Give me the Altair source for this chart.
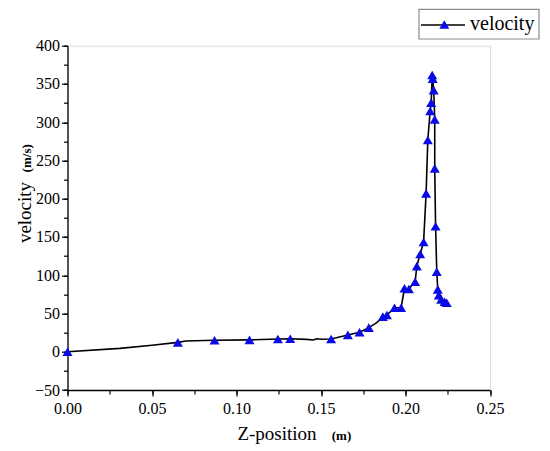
import altair as alt
import pandas as pd

# ---- data ----
# dense path of the black line
line_z = [0.0, 0.031, 0.050, 0.0653, 0.070, 0.087, 0.1077, 0.1245, 0.1318, 0.1415, 0.1455,
          0.1475, 0.1504, 0.156, 0.1659, 0.1728, 0.1783, 0.183, 0.1866, 0.1890, 0.1935, 0.1974,
          0.1994, 0.2020, 0.2057, 0.2067, 0.2087, 0.2107, 0.2122, 0.2132, 0.2146, 0.2152, 0.2158,
          0.2161, 0.2167, 0.2173, 0.2173, 0.2178, 0.2185, 0.2191, 0.2197, 0.2211, 0.2231, 0.2244]
line_v = [0.0, 4.4, 8.5, 12.3, 14.0, 15.0, 15.5, 16.6, 17.0, 16.2, 15.3,
          17.0, 16.3, 16.6, 22.0, 25.5, 31.5, 38.0, 45.8, 48.0, 57.5, 57.5,
          83.0, 82.0, 91.5, 112.0, 127.7, 143.4, 207.0, 276.7, 314.6, 325.5, 361.7,
          357.0, 342.0, 303.8, 239.7, 164.0, 104.6, 81.5, 74.0, 68.5, 65.4, 64.0]

# blue triangle markers
mark_z = [0.0, 0.0653, 0.087, 0.1077, 0.1245, 0.1318, 0.156, 0.1659, 0.1728, 0.1783, 0.1866,
          0.1890, 0.1935, 0.1974, 0.1994, 0.2020, 0.2057, 0.2067, 0.2087, 0.2107, 0.2122, 0.2132,
          0.2146, 0.2152, 0.2158, 0.2161, 0.2167, 0.2173, 0.2173, 0.2178, 0.2185, 0.2191, 0.2197,
          0.2211, 0.2231, 0.2244]
mark_v = [0.0, 12.3, 15.0, 15.5, 16.6, 17.0, 16.6, 22.0, 25.5, 31.5, 45.8,
          48.0, 57.5, 57.5, 83.0, 82.0, 91.5, 112.0, 127.7, 143.4, 207.0, 276.7,
          314.6, 325.5, 361.7, 357.0, 342.0, 303.8, 239.7, 164.0, 104.6, 81.5, 74.0,
          68.5, 65.4, 64.0]

x_major = [0.0, 0.05, 0.10, 0.15, 0.20, 0.25]
x_minor = [0.0, 0.025, 0.05, 0.075, 0.10, 0.125, 0.15, 0.175, 0.20, 0.225, 0.25]
y_major = [-50, 0, 50, 100, 150, 200, 250, 300, 350, 400]
y_minor = [-50, -25, 0, 25, 50, 75, 100, 125, 150, 175, 200, 225, 250, 275, 300, 325, 350, 375, 400]

x_title, x_unit = "Z-position", "(m)"
y_title, y_unit = "velocity", "(m/s)"
legend_label = "velocity"

# ---- styling ----
W, H = 422.5, 344.3
FONT = "'Liberation Serif', 'DejaVu Serif', serif"
BLUE = "#0a0ae6"

line_df = pd.DataFrame({"z": line_z, "v": line_v, "i": list(range(len(line_z)))})
mark_df = pd.DataFrame({"z": mark_z, "v": mark_v})
one = pd.DataFrame({"a": [0]})

xs = alt.Scale(domain=[0, 0.25], nice=False, zero=False)
ys = alt.Scale(domain=[-50, 400], nice=False, zero=False)

common = dict(grid=False, title=None, domainColor="black", tickColor="black",
              labelColor="black", labelFont=FONT, labelFontSize=16, labelFlush=False,
              labelOverlap=False, domainWidth=1.3, tickWidth=1.2)

line = alt.Chart(line_df).mark_line(color="black", strokeWidth=1.6).encode(
    x=alt.X("z:Q", scale=xs, axis=alt.Axis(orient="bottom", values=x_major, format=".2f",
                                           tickSize=6, labelPadding=4, **common)),
    y=alt.Y("v:Q", scale=ys, axis=alt.Axis(orient="left", values=y_major, format="d",
                                           tickSize=6, labelPadding=2, **common)),
    order="i:Q",
)

points = alt.Chart(mark_df).mark_point(shape="triangle-up", filled=True, size=100,
                                       color=BLUE, opacity=1).encode(
    x=alt.X("z:Q", scale=xs, axis=alt.Axis(orient="bottom", values=x_minor, labels=False,
                                           domain=False, tickSize=4, tickColor="black",
                                           tickWidth=1.2, grid=False, title=None)),
    y=alt.Y("v:Q", scale=ys, axis=alt.Axis(orient="left", values=y_minor, labels=False,
                                           domain=False, tickSize=4, tickColor="black",
                                           tickWidth=1.2, grid=False, title=None)),
)

# axis titles
xt1 = alt.Chart(one).mark_text(text=x_title, font=FONT, fontSize=19, color="black",
                               align="center", baseline="alphabetic").encode(
    x=alt.value(209.5), y=alt.value(393.8))
xt2 = alt.Chart(one).mark_text(text=x_unit, font=FONT, fontSize=13, fontWeight="bold",
                               color="black", align="center", baseline="alphabetic").encode(
    x=alt.value(274), y=alt.value(393.8))
yt1 = alt.Chart(one).mark_text(text=y_title, font=FONT, fontSize=19, color="black", angle=270,
                               align="center", baseline="alphabetic").encode(
    x=alt.value(-36.5), y=alt.value(166.8))
yt2 = alt.Chart(one).mark_text(text=y_unit, font=FONT, fontSize=13, fontWeight="bold",
                               color="black", angle=270, align="center",
                               baseline="alphabetic").encode(
    x=alt.value(-36.5), y=alt.value(112.6))

# legend
lg_box = alt.Chart(one).mark_rect(fill="white", stroke="#8c8c8c", strokeWidth=1.2).encode(
    x=alt.value(351.5), x2=alt.value(471.5), y=alt.value(-36.4), y2=alt.value(-6.7))
lg_line = alt.Chart(one).mark_rule(color="black", strokeWidth=1.6).encode(
    x=alt.value(353.5), x2=alt.value(397.5), y=alt.value(-20.7))
lg_tri = alt.Chart(one).mark_point(shape="triangle-up", filled=True, size=100, color=BLUE,
                                   opacity=1).encode(x=alt.value(376.8), y=alt.value(-21.2))
lg_txt = alt.Chart(one).mark_text(text=legend_label, font=FONT, fontSize=20, color="black",
                                  align="left", baseline="alphabetic").encode(
    x=alt.value(402.5), y=alt.value(-15.7))

chart = alt.layer(line, points, xt1, xt2, yt1, yt2, lg_box, lg_line, lg_tri, lg_txt).resolve_axis(
    x="independent", y="independent"
).properties(
    width=W, height=H, autosize="none",
    padding={"left": 59.5, "top": 37.7, "right": 50, "bottom": 56},
).configure_view(stroke=None).configure(background="white", font=FONT).configure_axis(
    labelFont=FONT, labelFontSize=16
).configure_text(font=FONT)

chart.save("out.html", embed_options={"renderer": "svg", "actions": False})
